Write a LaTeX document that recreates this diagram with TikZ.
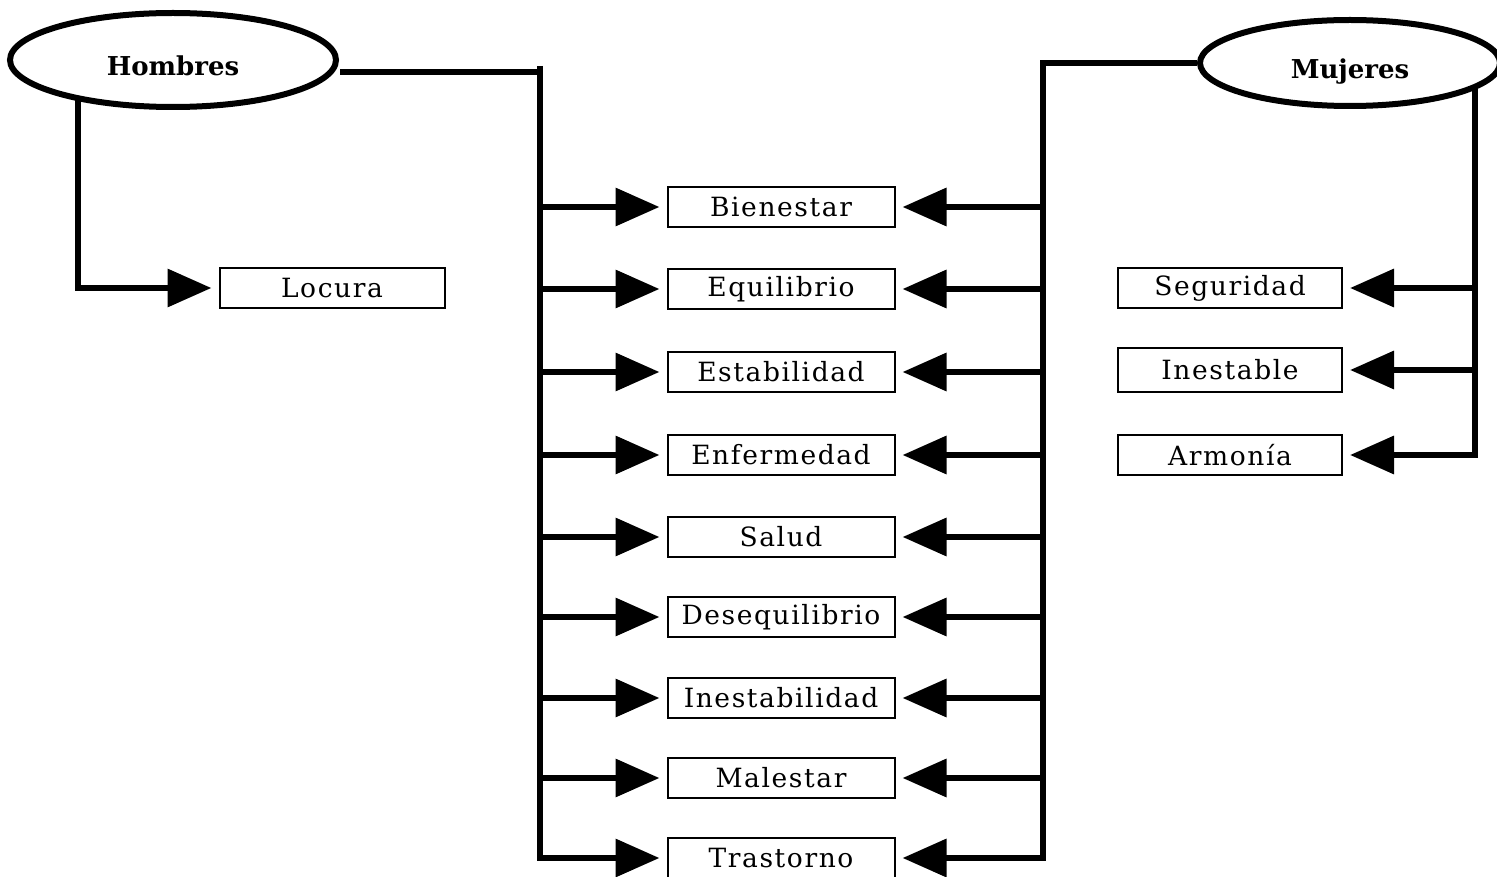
\documentclass[tikz,border=0pt]{standalone}
\usepackage{fontspec}
\setmainfont{DejaVu Serif}
\usetikzlibrary{shapes.geometric,arrows.meta}
\begin{document}
\begin{tikzpicture}[x=1pt,y=-1pt,
  bus/.style={line width=6.5pt},
  feed/.style={line width=6.5pt,-{Triangle[length=44pt,width=37pt]},shorten >=7pt},
  term/.style={draw,line width=2pt,minimum width=227pt,minimum height=40pt,inner sep=0pt,
    font=\fontsize{26.5}{30}\selectfont\addfontfeature{LetterSpace=6}},
  group/.style={ellipse,draw,line width=6pt,fill=white,inner sep=0pt,
    text height=31pt,text depth=0pt,
    font=\fontsize{26}{30}\selectfont\bfseries}]
\clip (0,0) rectangle (1497,877);
\fill[white] (0,0) rectangle (1497,877);

% the two groups
\node[group,minimum width=326pt,minimum height=94pt] (hom) at (173,60) {Hombres};
\node[group,minimum width=300pt,minimum height=86pt] (muj) at (1350,63) {Mujeres};

% terms used for both groups
\foreach \n/\t/\y in {bie/Bienestar/207,equ/Equilibrio/289,est/Estabilidad/372,
  enf/Enfermedad/455,sal/Salud/537,des/Desequilibrio/617,inb/Inestabilidad/698,
  mal/Malestar/778,tra/Trastorno/858}
  \node[term] (\n) at (781,\y) {\t};

% terms of one group only
\node[term,minimum width=225pt] (loc) at (332,288) {Locura};
\node[term,minimum width=224pt] (seg) at (1230,288) {Seguridad};
\node[term,minimum width=224pt,minimum height=44pt] (ine) at (1230,370) {Inestable};
\node[term,minimum width=224pt] (arm) at (1230,455) {Armonía};

% bus lines
\coordinate (lt) at (540,66);
\coordinate (lb) at (540,858);
\coordinate (rt) at (1043,63);
\coordinate (rb) at (1043,858);
\coordinate (hr) at (340,72);
\coordinate (hd) at (78,99);
\coordinate (hk) at (78,288);
\coordinate (mt) at (1475,86);
\coordinate (mk) at (1475,455);

\draw[bus] (hr) -- (hr -| lt);
\draw[feed] (lt) -- (lb) -- (tra.west);
\draw[feed] (muj.west) -- (rt) -- (rb) -- (tra.east);

\foreach \n in {bie,equ,est,enf,sal,des,inb,mal}{
  \draw[feed] (lt |- \n) -- (\n.west);
  \draw[feed] (rt |- \n) -- (\n.east);
}

\draw[feed] (hd) -- (hk) -- (loc.west);
\draw[feed] (mt) -- (mk) -- (arm.east);
\draw[feed] (mt |- seg) -- (seg.east);
\draw[feed] (mt |- ine) -- (ine.east);
\end{tikzpicture}
\end{document}
